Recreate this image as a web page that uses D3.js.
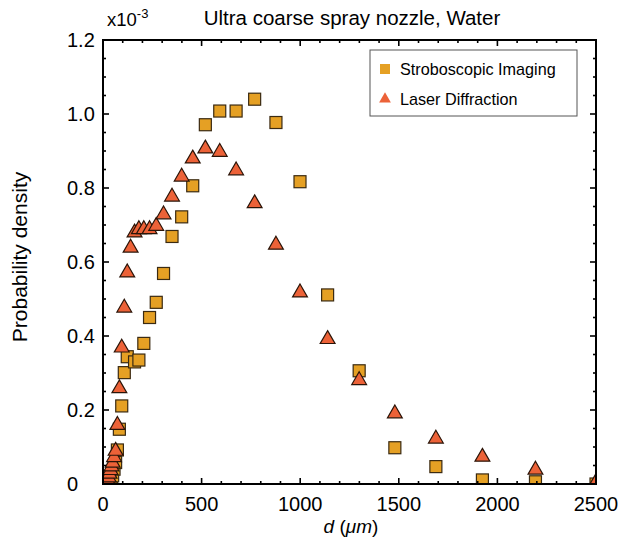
<!DOCTYPE html>
<html>
<head>
<meta charset="utf-8">
<script src="https://cdn.jsdelivr.net/npm/d3@7"></script>
<style>
  body { margin: 0; background: #fff; }
  svg { display: block; font-family: "Liberation Sans", Arial, sans-serif; }
</style>
</head>
<body>
<svg id="chart" width="620" height="542"></svg>
<script>
// ---- Data (probability density in units of 1e-3) ----
const strobeD = [38, 43, 49, 56, 64, 73, 83, 95, 108, 123, 160, 182, 207, 236, 270, 307, 350, 399, 455, 519, 592, 675, 769, 877, 999, 1139, 1299, 1480, 1688, 1924, 2193, 2500];
const strobeP = [0.004, 0.012, 0.022, 0.04, 0.058, 0.092, 0.148, 0.211, 0.301, 0.344, 0.330, 0.335, 0.380, 0.450, 0.491, 0.569, 0.669, 0.722, 0.806, 0.971, 1.008, 1.008, 1.040, 0.977, 0.817, 0.511, 0.306, 0.098, 0.047, 0.011, 0.006, 0.0];
const laserD = [22, 25.5, 29, 33, 38, 43, 49, 56, 64, 73, 83, 95, 108, 123, 140, 160, 182, 207, 236, 270, 307, 350, 399, 455, 519, 592, 675, 769, 877, 999, 1139, 1299, 1480, 1688, 1924, 2193, 2500];
const laserP = [0.005, 0.012, 0.02, 0.03, 0.04, 0.05, 0.06, 0.075, 0.092, 0.162, 0.261, 0.371, 0.479, 0.574, 0.641, 0.682, 0.691, 0.691, 0.691, 0.700, 0.731, 0.779, 0.833, 0.882, 0.909, 0.900, 0.850, 0.761, 0.649, 0.520, 0.394, 0.283, 0.193, 0.125, 0.076, 0.041, 0.008];
const xTicks = [0, 500, 1000, 1500, 2000, 2500];
const yTicks = [0, 0.2, 0.4, 0.6, 0.8, 1.0, 1.2];
const seriesNames = ["Stroboscopic Imaging", "Laser Diffraction"];
const titleText = "Ultra coarse spray nozzle, Water";

// ---- Layout ----
const L = 103, R = 596, T = 40, B = 484;
const svg = d3.select("#chart");
const x = d3.scaleLinear().domain([0, 2500]).range([L, R]);
const y = d3.scaleLinear().domain([0, 1.2]).range([B, T]);

const sqColor = "#E5A024", triColor = "#EC6238";

// clip
svg.append("defs").append("clipPath").attr("id", "clip")
  .append("rect").attr("x", L).attr("y", T).attr("width", R - L).attr("height", B - T);

const pts = svg.append("g").attr("clip-path", "url(#clip)");
const sqSize = 12;
pts.selectAll("rect.sq").data(strobeD.map((d, i) => [d, strobeP[i]])).enter()
  .append("rect").attr("class", "sq")
  .attr("x", d => x(d[0]) - sqSize / 2).attr("y", d => y(d[1]) - sqSize / 2)
  .attr("width", sqSize).attr("height", sqSize)
  .attr("fill", sqColor).attr("stroke", "#3a2a12").attr("stroke-width", 1.2);

const tri = d3.symbol().type(d3.symbolTriangle).size(95);
pts.selectAll("path.tri").data(laserD.map((d, i) => [d, laserP[i]])).enter()
  .append("path").attr("class", "tri")
  .attr("d", tri)
  .attr("transform", d => `translate(${x(d[0])},${y(d[1]) + 1})`)
  .attr("fill", triColor).attr("stroke", "#2a1408").attr("stroke-width", 1.2);

// ---- Axes (ticks inward on all sides) ----
const xMinor = d3.range(0, 2501, 100);
const yMinor = d3.range(0, 1.2001, 0.05);
const ax = svg.append("g").attr("stroke", "#000").attr("stroke-width", 1.6);
function isMajorX(v) { return Math.abs(v % 500) < 1e-6; }
function isMajorY(v) { return Math.abs(Math.round(v * 100) % 20) < 1e-6; }
xMinor.forEach(v => {
  const len = isMajorX(v) ? 6 : 3;
  ax.append("line").attr("x1", x(v)).attr("x2", x(v)).attr("y1", B).attr("y2", B - len);
  ax.append("line").attr("x1", x(v)).attr("x2", x(v)).attr("y1", T).attr("y2", T + len);
});
yMinor.forEach(v => {
  const len = isMajorY(v) ? 6 : 3;
  ax.append("line").attr("y1", y(v)).attr("y2", y(v)).attr("x1", L).attr("x2", L + len);
  ax.append("line").attr("y1", y(v)).attr("y2", y(v)).attr("x1", R).attr("x2", R - len);
});
svg.append("rect").attr("x", L).attr("y", T).attr("width", R - L).attr("height", B - T)
  .attr("fill", "none").attr("stroke", "#000").attr("stroke-width", 2);

// tick labels
svg.append("g").selectAll("text").data(xTicks).enter().append("text")
  .attr("x", d => x(d)).attr("y", 511).attr("text-anchor", "middle")
  .attr("font-size", 20).text(d => d);
svg.append("g").selectAll("text").data(yTicks).enter().append("text")
  .attr("x", 67).attr("y", d => y(d) + 7).attr("text-anchor", "start")
  .attr("font-size", 20).text(d => d === 0 ? "0" : d.toFixed(1));

// exponent
const ex = svg.append("text").attr("x", 107).attr("y", 26).attr("font-size", 18.5);
ex.append("tspan").text("x10");
ex.append("tspan").attr("dy", -8).attr("font-size", 13).text("-3");

// title & labels
svg.append("text").attr("x", 352).attr("y", 25).attr("text-anchor", "middle")
  .attr("font-size", 20.5).text(titleText);
svg.append("text").attr("transform", "translate(27,257) rotate(-90)")
  .attr("text-anchor", "middle").attr("font-size", 21).text("Probability density");
const xl = svg.append("text").attr("x", 351).attr("y", 533).attr("text-anchor", "middle").attr("font-size", 19);
xl.append("tspan").attr("font-style", "italic").text("d");
xl.append("tspan").text(" (");
xl.append("tspan").attr("font-style", "italic").text("μm");
xl.append("tspan").text(")");

// legend
const lg = svg.append("g");
lg.append("rect").attr("x", 370).attr("y", 50).attr("width", 207).attr("height", 66)
  .attr("fill", "#fff").attr("stroke", "#555").attr("stroke-width", 1);
lg.append("rect").attr("x", 380).attr("y", 64).attr("width", 10).attr("height", 10).attr("fill", sqColor);
lg.append("path").attr("d", d3.symbol().type(d3.symbolTriangle).size(60))
  .attr("transform", "translate(385,99)").attr("fill", triColor);
lg.selectAll("text.lt").data(seriesNames).enter().append("text")
  .attr("x", 400).attr("y", (d, i) => 75 + i * 30).attr("font-size", 16.2).text(d => d);
</script>
</body>
</html>
